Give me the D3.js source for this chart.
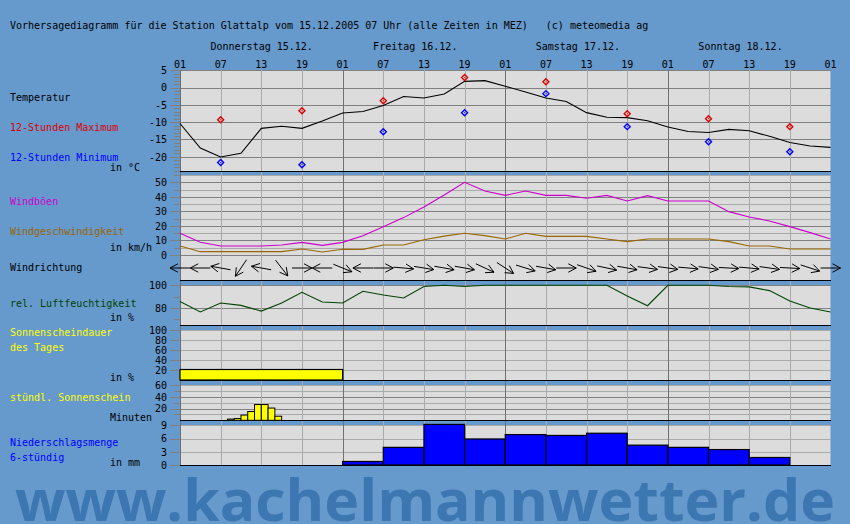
<!DOCTYPE html>
<html><head><meta charset="utf-8">
<script src="https://cdn.jsdelivr.net/npm/d3@7"></script>
<style>body{margin:0;background:#6699cc;overflow:hidden} text{white-space:pre}</style>
</head><body><svg id="c" width="850" height="524" xml:space="preserve"></svg>
<script>
// ---------------- DATA ----------------
const hourLabels = ["01","07","13","19"];
const dayLabels = ["Donnerstag 15.12.","Freitag 16.12.","Samstag 17.12.","Sonntag 18.12."];
// hours since 15.12. 01 Uhr, 3-hourly
const hours3 = [0,3,6,9,12,15,18,21,24,27,30,33,36,39,42,45,48,51,54,57,60,63,66,69,72,75,78,81,84,87,90,93,96];
const temperature = [-10.4,-17.5,-20.1,-19.0,-11.8,-11.2,-11.8,-9.7,-7.35,-6.9,-5.2,-2.6,-3.0,-1.85,1.8,2.0,0.4,-1.3,-3.0,-4.0,-7.25,-8.6,-8.7,-9.6,-11.4,-12.7,-13.0,-12.1,-12.5,-14.1,-15.9,-16.9,-17.3];
const extremeHours = [6,18,30,42,54,66,78,90];
const tMax = [-9.3,-6.7,-3.8,2.9,1.7,-7.55,-9.0,-11.3];
const tMin = [-21.7,-22.3,-12.75,-7.25,-1.75,-11.3,-15.65,-18.55];
const windGust = [14.9,8.7,6.2,6.2,6.2,6.9,8.7,6.6,8.7,13.3,19.5,25.7,33,41.2,50,44,41,44,41,41,39,41,37.1,40.8,37.1,37.1,37.1,29.8,26.1,23.4,19.5,15.4,11];
const windSpeed = [6.2,2.3,2.3,2.3,2.3,2.3,4.1,2.1,3.9,3.9,6.9,6.9,10.5,13,14.9,13.3,11,14.9,12.8,12.8,12.8,11,9.2,11,11,11,11,9.2,6.2,6.2,4.1,4.1,4.1];
// direction the wind comes from, degrees
const windDir = [90,90,100,34,100,322,270,90,292,90,270,275,279,280,280,295,303,287,280,270,289,282,280,278,278,275,278,273,275,278,273,288,270];
const humidity = [85.8,76.5,84.4,82.3,77.3,84.4,93.8,85.3,84.4,94.7,91.5,88.8,99,100,99,100,100,100,100,100,100,100,90.5,82,100,100,100,99,98.6,95.3,86.2,80,76.5];
const sunDays = [0,1,2,3];
const sunPercent = [21,0,0,0];
const sunHourStart = [7,8,9,10,11,12,13,14];
const sunMinutes = [2,3,9,15,27,27,21,7];
const precipStart = [0,6,12,18,24,30,36,42,48,54,60,66,72,78,84,90];
const precip = [0,0,0,0,0.8,4.0,9.2,5.9,6.9,6.7,7.2,4.5,4.0,3.5,1.7,0];

// ---------------- LAYOUT ----------------
const BG="#6699cc", PANEL="#dcdcdc", GL="#aaaaaa", GD="#808080", GDAY="#707070";
const FONT="DejaVu Sans Mono";
const svg=d3.select("#c");
const X0=180, X1=830.5;
const x=d3.scaleLinear().domain([0,96]).range([X0,X1]);

const yT=d3.scaleLinear().domain([-20,5]).range([156.7,70.3]);
const yW=d3.scaleLinear().domain([0,55]).range([255,175]);
const yH=d3.scaleLinear().domain([65,100]).range([325,285.3]);
const yS=d3.scaleLinear().domain([0,100]).range([380,330]);
const yM=d3.scaleLinear().domain([0,60]).range([420.3,385.3]);
const yP=d3.scaleLinear().domain([0,9]).range([465,425.3]);

svg.append("rect").attr("width",850).attr("height",524).attr("fill",BG);

const panels=[[70,171],[175,255],[255,280],[285,325],[330,380],[385,420],[425,465]];
panels.forEach(p=>svg.append("rect").attr("x",X0).attr("y",p[0]).attr("width",X1-X0).attr("height",p[1]-p[0]).attr("fill",PANEL));

const g=svg.append("g").attr("shape-rendering","crispEdges");
function hline(y,color){g.append("line").attr("x1",X0).attr("x2",X1).attr("y1",Math.round(y)+0.5).attr("y2",Math.round(y)+0.5).attr("stroke",color);}
function tick(y,len,color=GD){g.append("line").attr("x1",X0-len).attr("x2",X0).attr("y1",Math.round(y)+0.5).attr("y2",Math.round(y)+0.5).attr("stroke",color);}
function ylab(y,t){svg.append("text").attr("x",167).attr("y",y+3.8).attr("text-anchor","end").attr("font-family",FONT).attr("font-size",10).attr("fill","#000").text(t);}

// temperature grid
d3.range(-24,6,1).forEach(v=>tick(yT(v), v%5===0?10:6, GD));
[5,0,-5,-10,-15,-20].forEach(v=>{hline(yT(v),GD);ylab(yT(v),v);});
// wind grid
[5,15,25,35,45,55].forEach(v=>{hline(yW(v),GL);tick(yW(v),6);});
[0,10,20,30,40,50].forEach(v=>{hline(yW(v),GD);tick(yW(v),10);ylab(yW(v),v);});
// humidity
[90,70].forEach(v=>tick(yH(v),6));
[100,80].forEach(v=>{hline(yH(v),GD);tick(yH(v),10);ylab(yH(v),v);});
// sunshine percent
[20,40,60,80,100].forEach(v=>hline(yS(v),GL));
[100,80,60,40,20].forEach(v=>{tick(yS(v),10);ylab(yS(v),v);});
// sunshine minutes
[10,30,50,60].forEach(v=>hline(yM(v),GL));
[10,30,50].forEach(v=>tick(yM(v),6));
[20,40].forEach(v=>hline(yM(v),GD));
[60,40,20].forEach(v=>{tick(yM(v),10);ylab(yM(v),v);});
// precipitation
[3,6,9].forEach(v=>hline(yP(v),GL));
[9,6,3,0].forEach(v=>{tick(yP(v),10);ylab(yP(v),v);});

// vertical grid lines
d3.range(6,96,6).forEach(h=>{
  g.append("line").attr("x1",Math.round(x(h))+0.5).attr("x2",Math.round(x(h))+0.5).attr("y1",70).attr("y2",465)
   .attr("stroke",h%24===0?GDAY:GL);
});
g.append("line").attr("x1",X0+0.5).attr("x2",X0+0.5).attr("y1",70).attr("y2",466).attr("stroke",GDAY);

// data marks ----------------------------------
const m=svg.append("g");
// sunshine per day
m.selectAll(".sd").data(sunDays).enter().append("rect")
 .attr("x",d=>x(d*24)).attr("width",x(24)-x(0)).attr("y",(d,i)=>yS(sunPercent[i]))
 .attr("height",(d,i)=>yS(0)-yS(sunPercent[i])).attr("fill","#ffff00").attr("stroke","#000").attr("stroke-width",1.2)
 .style("display",(d,i)=>sunPercent[i]>0?null:"none");
// hourly sunshine
m.selectAll(".sh").data(sunHourStart).enter().append("rect")
 .attr("x",d=>x(d)).attr("width",x(1)-x(0)).attr("y",(d,i)=>yM(sunMinutes[i]))
 .attr("height",(d,i)=>yM(0)-yM(sunMinutes[i])).attr("fill","#ffff00").attr("stroke","#000").attr("stroke-width",1);
// precipitation
m.selectAll(".pr").data(precipStart).enter().append("rect")
 .attr("x",d=>x(d)).attr("width",x(6)-x(0)).attr("y",(d,i)=>yP(precip[i]))
 .attr("height",(d,i)=>yP(0)-yP(precip[i])).attr("fill","#0000ff").attr("stroke","#000").attr("stroke-width",1.2)
 .style("display",(d,i)=>precip[i]>0?null:"none");

// black separator lines
[171,280,325,380,420,465].forEach(y=>g.append("line").attr("x1",X0).attr("x2",X1).attr("y1",y+0.5).attr("y2",y+0.5).attr("stroke","#000").attr("stroke-width",1.5));

// temperature line
m.append("path").datum(hours3).attr("fill","none").attr("stroke","#000").attr("stroke-width",1.1)
 .attr("d",d3.line().x(d=>x(d)).y((d,i)=>yT(temperature[i])));
function diamonds(vals,color){
  m.selectAll(null).data(extremeHours).enter().append("path")
   .attr("d",(d,i)=>{const cx=x(d),cy=yT(vals[i]);return `M${cx},${cy-3}L${cx+3},${cy}L${cx},${cy+3}L${cx-3},${cy}Z`;})
   .attr("fill","none").attr("stroke",color).attr("stroke-width",1.4);
  m.selectAll(null).data(extremeHours).enter().append("rect")
   .attr("x",d=>x(d)-0.5).attr("y",(d,i)=>yT(vals[i])-0.5).attr("width",1).attr("height",1).attr("fill",color);
}
diamonds(tMax,"#dd0000");
diamonds(tMin,"#0000ff");

// wind
m.append("path").datum(hours3).attr("fill","none").attr("stroke","#cc00cc").attr("stroke-width",1.1)
 .attr("d",d3.line().x(d=>x(d)).y((d,i)=>yW(windGust[i])));
m.append("path").datum(hours3).attr("fill","none").attr("stroke","#996600").attr("stroke-width",1.1)
 .attr("d",d3.line().x(d=>x(d)).y((d,i)=>yW(windSpeed[i])));

// wind direction arrows
const ar=m.append("g").attr("stroke","#000").attr("stroke-width",1).attr("fill","none");
hours3.forEach((h,i)=>{
  const th=(windDir[i]-270)*Math.PI/180, cx=x(h), cy=268;
  const L=10, hx=cx+L*Math.cos(th), hy=cy+L*Math.sin(th), tx=cx-L*Math.cos(th), ty=cy-L*Math.sin(th);
  const a=28*Math.PI/180, hl=9;
  const b1=th+Math.PI-a, b2=th+Math.PI+a;
  ar.append("path").attr("d",`M${tx},${ty}L${hx},${hy}M${hx+hl*Math.cos(b1)},${hy+hl*Math.sin(b1)}L${hx},${hy}L${hx+hl*Math.cos(b2)},${hy+hl*Math.sin(b2)}`);
});

// humidity
m.append("path").datum(hours3).attr("fill","none").attr("stroke","#004400").attr("stroke-width",1.1)
 .attr("d",d3.line().x(d=>x(d)).y((d,i)=>yH(humidity[i])));

// ---------------- TEXT ----------------
function txt(x0,y0,t,color="#000",anchor="start"){
  return svg.append("text").attr("x",x0).attr("y",y0).attr("font-family",FONT).attr("font-size",10)
   .attr("fill",color).attr("text-anchor",anchor).text(t);
}
txt(10,29,"Vorhersagediagramm für die Station Glattalp vom 15.12.2005 07 Uhr (alle Zeiten in MEZ)   (c) meteomedia ag");
dayLabels.forEach((d,i)=>txt(x(i*24+4.5),50,d));
d3.range(0,97,6).forEach((h,i)=>txt(x(h),68,hourLabels[i%4],"#000","middle"));

txt(10,101,"Temperatur");
txt(10,131,"12-Stunden Maximum","#dd0000");
txt(10,161,"12-Stunden Minimum","#0000ff");
txt(110,171,"in °C");
txt(10,205,"Windböen","#cc00cc");
txt(10,235,"Windgeschwindigkeit","#996600");
txt(110,251,"in km/h");
txt(10,270.5,"Windrichtung");
txt(10,306.5,"rel. Luftfeuchtigkeit","#004400");
txt(110,321,"in %");
txt(10,336,"Sonnenscheindauer","#ffff00");
txt(10,351,"des Tages","#ffff00");
txt(110,381,"in %");
txt(10,401,"stündl. Sonnenschein","#ffff00");
txt(110,421,"Minuten");
txt(10,446,"Niederschlagsmenge","#0000ff");
txt(10,461,"6-stündig","#0000ff");
txt(110,466,"in mm");

svg.append("text").attr("x",15).attr("y",521).attr("font-family","Open Sans").attr("font-weight",700)
 .attr("font-size",57).attr("fill","#3d77b1").attr("textLength",820).attr("lengthAdjust","spacingAndGlyphs")
 .text("www.kachelmannwetter.de");
</script></body></html>
